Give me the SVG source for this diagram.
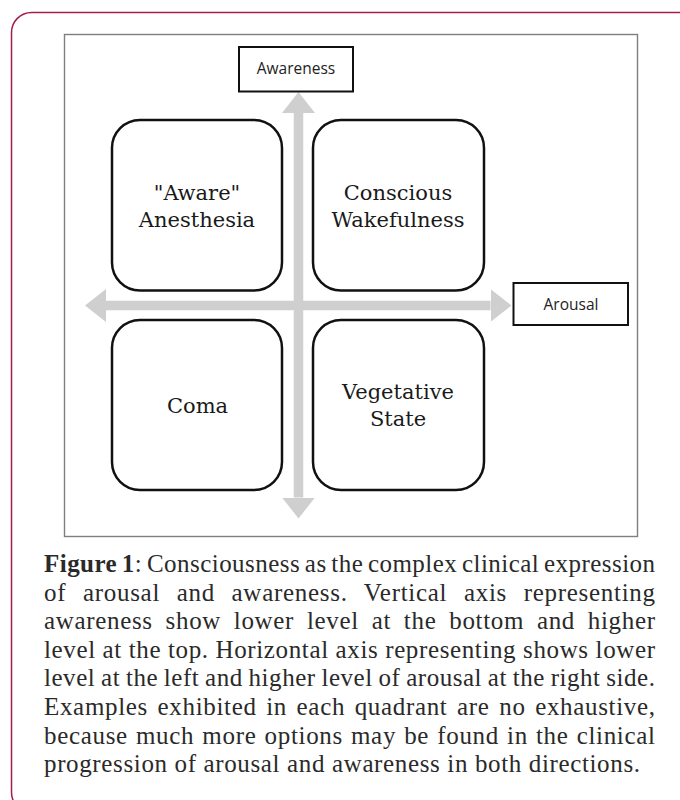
<svg xmlns="http://www.w3.org/2000/svg" width="680" height="800" viewBox="0 0 680 800">
  <style>
    .quad { fill: #ffffff; stroke: #111111; stroke-width: 2.5; }
    .qtext { font-family: "DejaVu Serif", "Liberation Serif", serif; font-size: 21px; fill: #1a1a1a; text-anchor: middle; }
    .lab { fill: #ffffff; stroke: #111111; stroke-width: 2; }
    .ltext { font-family: "Open Sans", "Liberation Sans", sans-serif; font-size: 15.5px; fill: #222222; text-anchor: middle; }
    .axis { stroke: #cfcfcf; stroke-width: 9.5; fill: none; }
    .cap { font-family: "Liberation Serif", "Times New Roman", serif; font-size: 25px; fill: #2a2a2a; }
  </style>
  <defs>
    <marker id="head" markerUnits="userSpaceOnUse" markerWidth="22" markerHeight="34" refX="0" refY="16.5" orient="auto-start-reverse">
      <path d="M0,0 L21,16.5 L0,33 Z" fill="#cfcfcf"/>
    </marker>
  </defs>
  <rect width="680" height="800" fill="#ffffff"/>
  <g id="card">
    <rect x="11.5" y="12.5" width="720" height="800" rx="20" ry="20" fill="none" stroke="#a51d48" stroke-width="1.5"/>
  </g>
  <g id="frame">
    <rect x="64.5" y="34.5" width="573" height="502" fill="#ffffff" stroke="#7f7f7f" stroke-width="1.4"/>
  </g>
  <g id="connectors">
    <line class="axis" x1="298.5" y1="113" x2="298.5" y2="497.5" marker-start="url(#head)" marker-end="url(#head)"/>
    <line class="axis" x1="106" y1="305.5" x2="490.5" y2="305.5" marker-start="url(#head)" marker-end="url(#head)"/>
  </g>
  <g id="awareness">
    <rect class="lab" x="239" y="47" width="114" height="44.5"/>
    <text class="ltext" x="296" y="73.5">Awareness</text>
  </g>
  <g id="arousal">
    <rect class="lab" x="513.5" y="283" width="114.5" height="42"/>
    <text class="ltext" x="571" y="310">Arousal</text>
  </g>
  <g id="aware-anesthesia">
    <rect class="quad" x="112" y="120" width="170" height="170.5" rx="28" ry="28"/>
    <text class="qtext" x="197" y="200">"Aware"</text>
    <text class="qtext" x="197" y="227">Anesthesia</text>
  </g>
  <g id="conscious-wakefulness">
    <rect class="quad" x="313" y="120" width="171" height="170.5" rx="28" ry="28"/>
    <text class="qtext" x="398" y="200">Conscious</text>
    <text class="qtext" x="398" y="227">Wakefulness</text>
  </g>
  <g id="coma">
    <rect class="quad" x="112" y="320" width="170" height="170" rx="28" ry="28"/>
    <text class="qtext" x="197.5" y="413">Coma</text>
  </g>
  <g id="vegetative-state">
    <rect class="quad" x="313" y="320" width="171" height="170" rx="28" ry="28"/>
    <text class="qtext" x="398" y="399">Vegetative</text>
    <text class="qtext" x="398" y="426">State</text>
  </g>
  <g id="caption">
    <text class="cap" x="44" y="572" textLength="611" lengthAdjust="spacing" word-spacing="-2"><tspan font-weight="bold">Figure 1</tspan>: Consciousness as the complex clinical expression</text>
    <text class="cap" x="44" y="600.6" textLength="611" lengthAdjust="spacing" word-spacing="9.7">of arousal and awareness. Vertical axis representing</text>
    <text class="cap" x="44" y="629.2" textLength="611" lengthAdjust="spacing" word-spacing="5.9">awareness show lower level at the bottom and higher</text>
    <text class="cap" x="44" y="657.8" textLength="611" lengthAdjust="spacing">level at the top. Horizontal axis representing shows lower</text>
    <text class="cap" x="44" y="686.4" textLength="611" lengthAdjust="spacing" word-spacing="-1">level at the left and higher level of arousal at the right side.</text>
    <text class="cap" x="44" y="715" textLength="611" lengthAdjust="spacing" word-spacing="2.7">Examples exhibited in each quadrant are no exhaustive,</text>
    <text class="cap" x="44" y="743.6" textLength="611" lengthAdjust="spacing" word-spacing="1.2">because much more options may be found in the clinical</text>
    <text class="cap" x="44" y="772.2" textLength="596" lengthAdjust="spacing">progression of arousal and awareness in both directions.</text>
  </g>
</svg>
